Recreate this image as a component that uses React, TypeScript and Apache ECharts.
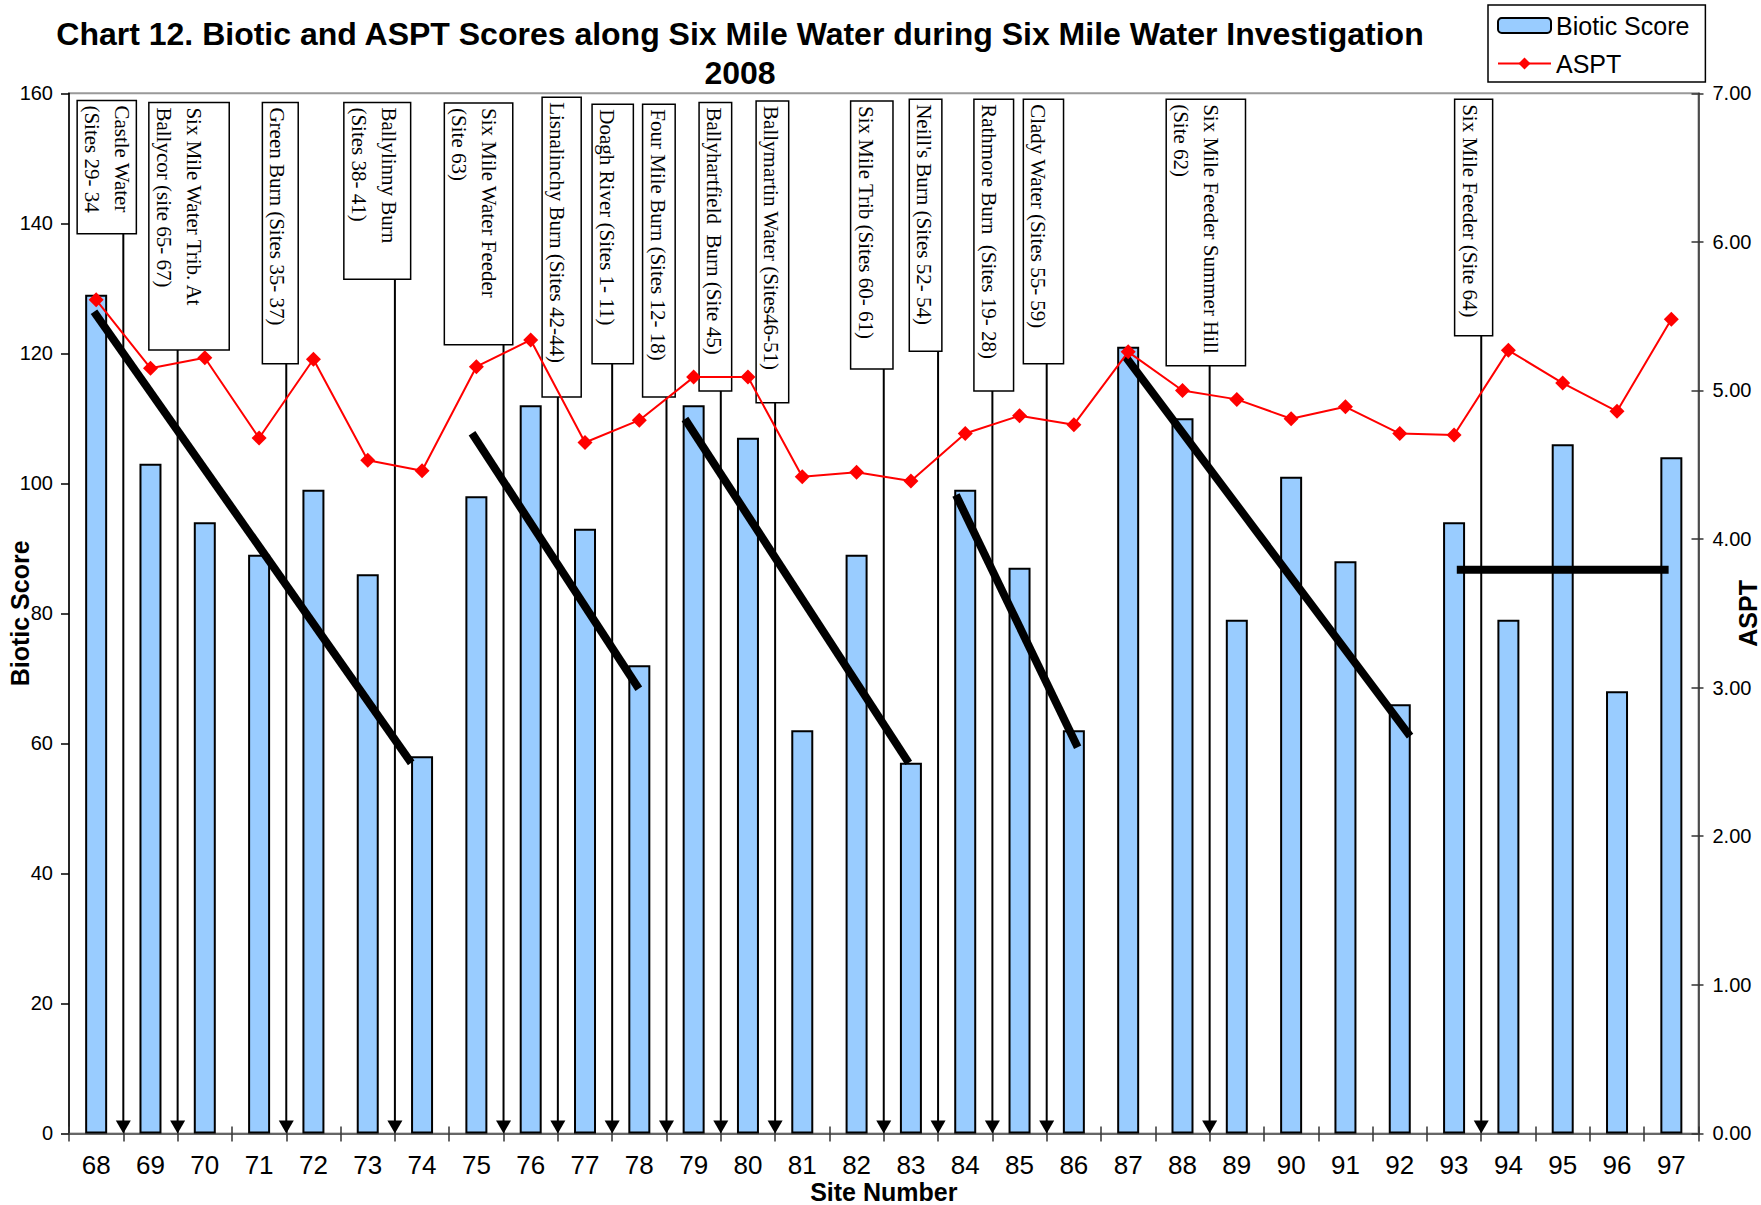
import React, { useEffect, useRef } from "react";
import * as echarts from "echarts";

const sites = ["68","69","70","71","72","73","74","75","76","77","78","79","80","81","82","83","84","85","86","87","88","89","90","91","92","93","94","95","96","97"];
const bioticScores = [129,103,94,89,99,86,58,98,112,93,72,112,107,62,89,57,99,87,62,121,110,79,101,88,66,94,79,106,68,104];
const asptScores = [5.61,5.15,5.22,4.68,5.21,4.53,4.46,5.16,5.34,4.65,4.80,5.09,5.09,4.42,4.45,4.39,4.71,4.83,4.77,5.26,5.00,4.94,4.81,4.89,4.71,4.70,5.27,5.05,4.86,5.48];
const leftTicks = { min: 0, max: 160, interval: 20 };
const rightTicks = { min: 0, max: 7, interval: 1 };

// trend lines: [[siteStart, scoreStart], [siteEnd, scoreEnd]]
const trendLines = [
  [[67.96, 126.4], [73.8, 57.0]],
  [[74.92, 107.7], [77.99, 68.4]],
  [[78.84, 109.9], [82.96, 57.0]],
  [[83.83, 98.2], [86.07, 59.4]],
  [[86.95, 119.5], [92.19, 61.1]],
  [[93.05, 86.7], [96.95, 86.7]],
];

// callouts: arrow position (site number between sites) and labels
const calloutArrows = [68.5,69.5,71.5,73.5,75.5,76.5,77.5,78.5,79.5,80.5,82.5,83.5,84.5,85.5,88.5,93.5];
const calloutLabels = [
  "Castle Water\n(Sites 29- 34",
  "Six Mile Water Trib. At\nBallycor (site 65- 67)",
  "Green Burn (Sites 35- 37)",
  "Ballylinny Burn\n(Sites 38- 41)",
  "Six Mile Water Feeder\n(Site 63)",
  "Lisnalinchy Burn (Sites 42-44)",
  "Doagh River (Sites 1- 11)",
  "Four Mile Burn (Sites 12- 18)",
  "Ballyhartfield  Burn (Site 45)",
  "Ballymartin Water (Sites46-51)",
  "Six Mile Trib (Sites 60- 61)",
  "Neill's Burn (Sites 52- 54)",
  "Rathmore Burn  (Sites 19- 28)",
  "Clady Water (Sites 55- 59)",
  "Six Mile Feeder Summer Hill\n(Site 62)",
  "Six Mile Feeder (Site 64)",
];
// callout box layout in axis units: [leftSite, rightSite, topScore, bottomScore]
const calloutBoxLayout = [
  [67.65, 68.74, 158.9, 138.4],
  [68.97, 70.45, 158.6, 120.5],
  [71.06, 71.72, 158.6, 118.4],
  [72.56, 73.79, 158.6, 131.4],
  [74.41, 75.67, 158.5, 121.3],
  [76.21, 76.93, 159.4, 113.3],
  [77.13, 77.89, 158.3, 118.4],
  [78.06, 78.66, 158.3, 113.3],
  [79.10, 79.70, 158.6, 114.2],
  [80.15, 80.75, 158.8, 112.4],
  [81.89, 82.67, 158.8, 117.6],
  [82.97, 83.57, 159.1, 120.3],
  [84.16, 84.89, 159.1, 114.2],
  [85.07, 85.81, 159.1, 118.4],
  [87.70, 89.16, 159.1, 118.1],
  [93.01, 93.71, 159.1, 122.7],
];

const SANS = "'Liberation Sans', Arial, sans-serif";
const SERIF = "'Liberation Serif', 'Times New Roman', serif";

export default function App() {
  const ref = useRef<HTMLDivElement>(null);
  useEffect(() => {
    if (!ref.current) return;
    const chart = echarts.init(ref.current, undefined, { renderer: "svg" });

    const calloutData = calloutArrows.map((a, i) => [a, ...calloutBoxLayout[i], i]);

    const trendSeries = trendLines.map((seg, i) => ({
      type: "line",
      name: "trend" + i,
      xAxisIndex: 2,
      yAxisIndex: 0,
      data: seg,
      symbol: "none",
      lineStyle: { color: "#000", width: 8 },
      z: 4,
      silent: true,
    }));

    const option: any = {
      animation: false,
      backgroundColor: "#fff",
      title: {
        text: "Chart 12. Biotic and ASPT Scores along Six Mile Water during Six Mile Water Investigation\n2008",
        left: 740,
        top: 14,
        padding: 0,
        textAlign: "center",
        textStyle: { fontFamily: SANS, fontSize: 32, fontWeight: "bold", color: "#000", lineHeight: 39 },
      },
      legend: {
        orient: "vertical",
        left: 1488,
        top: 5,
        padding: [8, 16, 6, 9],
        itemWidth: 53,
        itemHeight: 15,
        itemGap: 13,
        borderColor: "#000",
        borderWidth: 1.5,
        textStyle: { fontFamily: SANS, fontSize: 25, color: "#000" },
        data: [
          { name: "Biotic Score", itemStyle: { color: "#99CCFF", borderColor: "#000", borderWidth: 2 } },
          { name: "ASPT" },
        ],
      },
      grid: {
        left: 69,
        right: 62.5,
        top: 93.3,
        bottom: 71.6,
        show: true,
        borderColor: "#999",
        borderWidth: 2,
        containLabel: false,
        outerBoundsMode: "none",
      },
      xAxis: [
        {
          type: "category",
          position: "bottom",
          data: sites,
          axisLine: { onZero: false, lineStyle: { color: "#666", width: 2 } },
          axisTick: { show: true, inside: false, length: 8, lineStyle: { color: "#333", width: 1.5 } },
          axisLabel: { fontFamily: SANS, fontSize: 26, color: "#000", margin: 19, interval: 0 },
          name: "Site Number",
          nameLocation: "middle",
          nameGap: 46,
          nameMoveOverlap: false,
          nameTextStyle: { fontFamily: SANS, fontSize: 25, fontWeight: "bold", color: "#000" },
          splitLine: { show: false },
        },
        {
          type: "category",
          position: "bottom",
          data: sites,
          axisLine: { show: false, onZero: false },
          axisTick: { show: true, inside: true, length: 7, lineStyle: { color: "#333", width: 1.5 } },
          axisLabel: { show: false },
          splitLine: { show: false },
        },
        {
          type: "value",
          position: "bottom",
          min: 67.5,
          max: 97.5,
          show: false,
          axisLine: { onZero: false },
        },
      ],
      yAxis: [
        {
          type: "value",
          position: "left",
          min: leftTicks.min,
          max: leftTicks.max,
          interval: leftTicks.interval,
          axisLine: { show: true, onZero: false, lineStyle: { color: "#000", width: 1.5 } },
          axisTick: { show: true, length: 8, lineStyle: { color: "#000", width: 1.5 } },
          axisLabel: { fontFamily: SANS, fontSize: 20, color: "#000", margin: 16 },
          splitLine: { show: false },
          name: "Biotic Score",
          nameLocation: "middle",
          nameGap: 37,
          nameMoveOverlap: false,
          nameTextStyle: { fontFamily: SANS, fontSize: 25, fontWeight: "bold", color: "#000" },
        },
        {
          type: "value",
          position: "right",
          min: rightTicks.min,
          max: rightTicks.max,
          interval: rightTicks.interval,
          axisLine: { show: true, onZero: false, lineStyle: { color: "#333", width: 1.5 } },
          axisTick: { show: true, length: 5, lineStyle: { color: "#333", width: 1.5 } },
          axisLabel: { fontFamily: SANS, fontSize: 20, color: "#000", margin: 14, formatter: (v: number) => v.toFixed(2) },
          splitLine: { show: false },
          name: "ASPT",
          nameLocation: "middle",
          nameGap: 37,
          nameMoveOverlap: false,
          nameTextStyle: { fontFamily: SANS, fontSize: 25, fontWeight: "bold", color: "#000" },
        },
        {
          type: "value",
          position: "right",
          min: rightTicks.min,
          max: rightTicks.max,
          interval: rightTicks.interval,
          axisLine: { show: false, onZero: false },
          axisTick: { show: true, inside: true, length: 7, lineStyle: { color: "#333", width: 1.5 } },
          axisLabel: { show: false },
          splitLine: { show: false },
        },
      ],
      series: [
        {
          type: "bar",
          name: "Biotic Score",
          xAxisIndex: 0,
          yAxisIndex: 0,
          data: bioticScores,
          barWidth: 22,
          itemStyle: { color: "#99CCFF", borderColor: "#000", borderWidth: 2 },
          z: 2,
        },
        {
          type: "custom",
          name: "callouts",
          xAxisIndex: 2,
          yAxisIndex: 0,
          data: calloutData,
          z: 3,
          silent: true,
          renderItem: (params: any, api: any) => {
            const i = api.value(5);
            const base = api.coord([api.value(0), 0]);
            const lt = api.coord([api.value(1), api.value(3)]);
            const rb = api.coord([api.value(2), api.value(4)]);
            const ax = base[0];
            const ay = base[1];
            return {
              type: "group",
              children: [
                {
                  type: "line",
                  shape: { x1: ax, y1: rb[1], x2: ax, y2: ay - 10 },
                  style: { stroke: "#000", lineWidth: 2 },
                },
                {
                  type: "polygon",
                  shape: { points: [[ax - 7.5, ay - 13], [ax + 7.5, ay - 13], [ax, ay]] },
                  style: { fill: "#000" },
                },
                {
                  type: "rect",
                  shape: { x: lt[0], y: lt[1], width: rb[0] - lt[0], height: rb[1] - lt[1] },
                  style: { fill: "#fff", stroke: "#000", lineWidth: 1.5 },
                },
                {
                  type: "text",
                  x: lt[0],
                  y: lt[1] + 5,
                  rotation: -Math.PI / 2,
                  style: {
                    text: calloutLabels[i],
                    fontFamily: SERIF,
                    fontSize: 21,
                    lineHeight: 30,
                    align: "left",
                    verticalAlign: "bottom",
                    fill: "#000",
                  },
                },
              ],
            };
          },
        },
        ...trendSeries,
        {
          type: "line",
          name: "ASPT",
          xAxisIndex: 0,
          yAxisIndex: 1,
          data: asptScores,
          symbol: "diamond",
          symbolSize: 15,
          itemStyle: { color: "#FF0000" },
          lineStyle: { color: "#FF0000", width: 2 },
          z: 5,
        },
      ],
    };
    chart.setOption(option);
    return () => chart.dispose();
  }, []);
  return (
    <div
      ref={ref}
      style={{ position: "absolute", left: 0, top: 0, width: 1761, height: 1205, background: "#fff" }}
    />
  );
}
